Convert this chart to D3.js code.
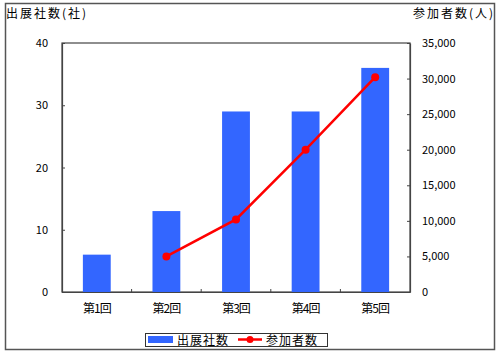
<!DOCTYPE html>
<html>
<head>
<meta charset="utf-8">
<script src="https://cdn.jsdelivr.net/npm/d3@7"></script>
<style>
  body { margin: 0; background: #fff; }
  text { font-family: "Noto Sans CJK JP", sans-serif; fill: #000; }
</style>
</head>
<body>
<div id="chart"></div>
<script>
// data
var rounds = ["第1回", "第2回", "第3回", "第4回", "第5回"];
var exhibitors = [6, 13, 29, 29, 36];
var visitors = [null, 5000, 10200, 20000, 30200];
var leftTicks = [0, 10, 20, 30, 40];
var rightTicks = [0, 5000, 10000, 15000, 20000, 25000, 30000, 35000];

var margin = {top: 43, right: 90, bottom: 62, left: 62},
    W = 500, H = 354,
    width = W - margin.left - margin.right,
    height = H - margin.top - margin.bottom;

var svg = d3.select("#chart").append("svg")
    .attr("width", W).attr("height", H);

// outer frame
svg.append("rect")
   .attr("x", 5.5).attr("y", 3.5)
   .attr("width", 489).attr("height", 346)
   .attr("fill", "none").attr("stroke", "#555").attr("stroke-width", 1.5);

var g = svg.append("g")
   .attr("transform", "translate(" + margin.left + "," + margin.top + ")");

var x = d3.scaleBand().domain(rounds).range([0, width]).paddingInner(0.6).paddingOuter(0.3);
var yL = d3.scaleLinear().domain([0, 40]).range([height, 0]);
var yR = d3.scaleLinear().domain([0, 35000]).range([height, 0]);

// plot frame
g.append("rect")
 .attr("width", width).attr("height", height)
 .attr("fill", "none").attr("stroke", "#444").attr("stroke-width", 1.2);

// bars
g.selectAll("rect.bar")
 .data(exhibitors)
 .enter().append("rect")
 .attr("class", "bar")
 .attr("x", (d, i) => x(rounds[i]))
 .attr("y", d => yL(d))
 .attr("width", x.bandwidth())
 .attr("height", d => height - yL(d))
 .attr("fill", "#3366ff");

// axes
var axL = g.append("g")
 .call(d3.axisLeft(yL).tickValues(leftTicks).tickSizeInner(-3).tickSizeOuter(0).tickPadding(14));
var axR = g.append("g")
 .attr("transform", "translate(" + width + ",0)")
 .call(d3.axisRight(yR).tickValues(rightTicks).tickSizeInner(-3).tickSizeOuter(0)
       .tickPadding(12).tickFormat(d3.format(",")));
var step = width / rounds.length;
var axB = g.append("g")
 .attr("transform", "translate(0," + height + ")")
 .call(d3.axisBottom(x).tickSize(0).tickPadding(12));
// category boundary ticks (inward)
axB.selectAll("line.bt")
 .data(d3.range(1, rounds.length))
 .enter().append("line")
 .attr("class", "bt")
 .attr("x1", d => d * step).attr("x2", d => d * step)
 .attr("y1", 0).attr("y2", -3)
 .attr("stroke", "#444");

[axL, axR, axB].forEach(a => {
  a.select(".domain").attr("stroke", "#444").attr("stroke-width", 1.2);
  a.selectAll(".tick line").attr("stroke", "#444");
  a.selectAll("text").style("font-size", "11px").attr("font-family", null);
});
axB.selectAll("text").style("font-size", "12px").style("letter-spacing", "-1px");

// line
var pts = visitors.map((v, i) => ({r: rounds[i], v: v})).filter(d => d.v != null);
var line = d3.line()
 .x(d => x(d.r) + x.bandwidth() / 2)
 .y(d => yR(d.v));
g.append("path").datum(pts)
 .attr("d", line)
 .attr("fill", "none").attr("stroke", "#ff0000").attr("stroke-width", 2.5);
g.selectAll("circle.pt").data(pts).enter().append("circle")
 .attr("class", "pt")
 .attr("cx", d => x(d.r) + x.bandwidth() / 2)
 .attr("cy", d => yR(d.v))
 .attr("r", 4).attr("fill", "#ff0000");

// axis titles
svg.append("text").attr("x", 6).attr("y", 18).style("font-size", "12px")
   .style("letter-spacing", "2px").text("出展社数(社)");
svg.append("text").attr("x", 495).attr("y", 18).attr("text-anchor", "end").style("font-size", "12px")
   .style("letter-spacing", "2px").text("参加者数(人)");

// legend
var lg = svg.append("g").attr("transform", "translate(145,333)");
lg.append("rect").attr("x", 0.5).attr("y", 0.5).attr("width", 182).attr("height", 13)
  .attr("fill", "#fff").attr("stroke", "#333");
lg.append("rect").attr("x", 3).attr("y", 3).attr("width", 25).attr("height", 7).attr("fill", "#3366ff");
lg.append("text").attr("x", 32).attr("y", 11.5).style("font-size", "12px")
  .style("letter-spacing", "1px").text("出展社数");
lg.append("line").attr("x1", 93).attr("x2", 117).attr("y1", 6.5).attr("y2", 6.5)
  .attr("stroke", "#ff0000").attr("stroke-width", 2.5);
lg.append("circle").attr("cx", 105).attr("cy", 6.5).attr("r", 3.5).attr("fill", "#ff0000");
lg.append("text").attr("x", 121).attr("y", 11.5).style("font-size", "12px")
  .style("letter-spacing", "1px").text("参加者数");
</script>
</body>
</html>
